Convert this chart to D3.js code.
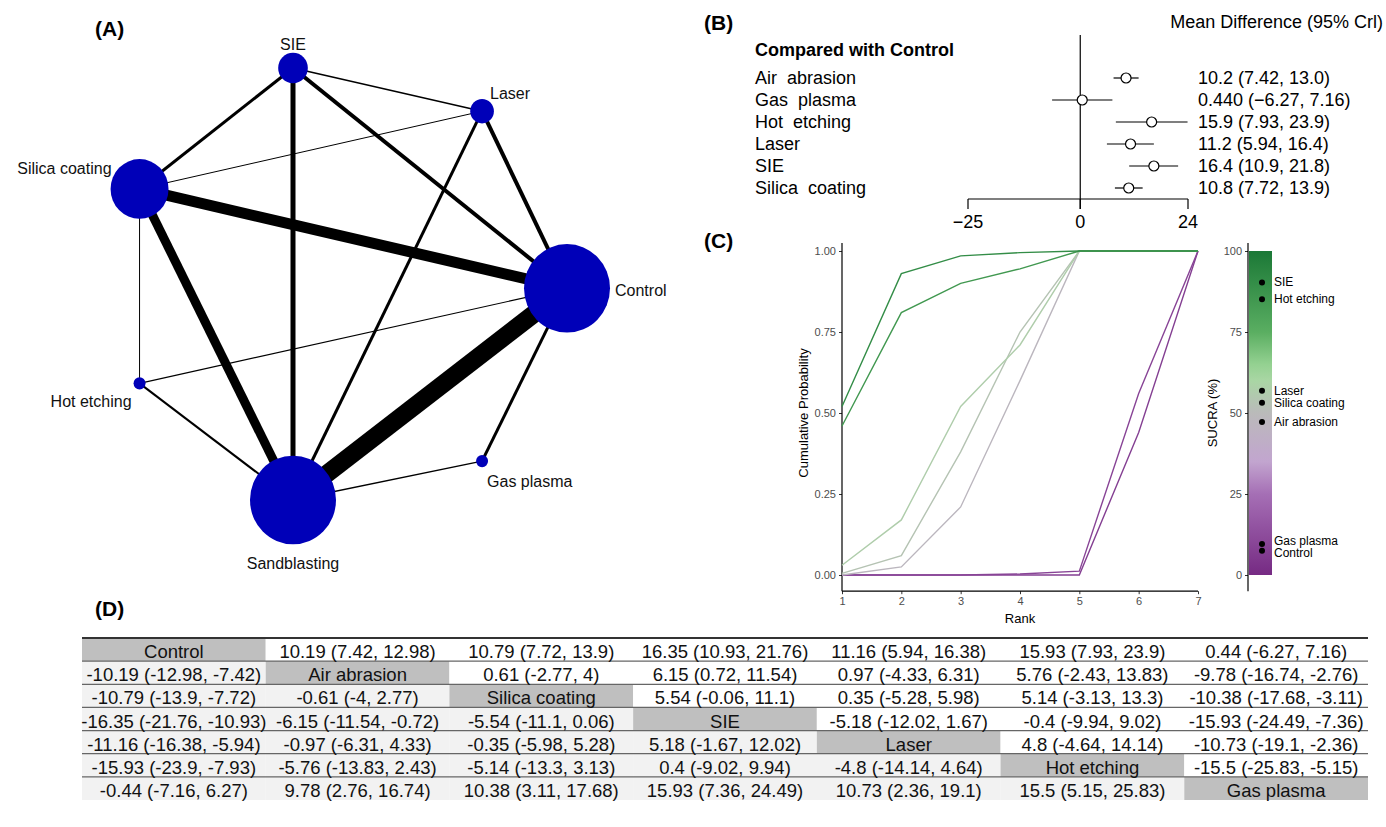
<!DOCTYPE html>
<html>
<head>
<meta charset="utf-8">
<script src="https://cdn.jsdelivr.net/npm/d3@7/dist/d3.min.js"></script>
<style>
  html, body { margin: 0; padding: 0; background: #fff; }
  svg { display: block; font-family: "Liberation Sans", Arial, Helvetica, sans-serif; }
</style>
</head>
<body>
<svg id="fig" width="1386" height="827"></svg>
<script>
// ---------------- data ----------------
// (A) network: treatments, relative sample size, direct-comparison weight
const netNodes = ["SIE", "Laser", "Silica coating", "Control", "Hot etching", "Gas plasma", "Sandblasting"];
const netNodeSize = [22, 14, 84, 185, 3.6, 3.6, 185];
const netEdgeFrom = ["Sandblasting", "Silica coating", "Silica coating", "SIE", "SIE", "Laser", "SIE", "Laser", "Control", "Hot etching", "SIE", "Sandblasting", "Hot etching", "Laser", "Silica coating"];
const netEdgeTo   = ["Control", "Control", "Sandblasting", "Sandblasting", "Control", "Control", "Silica coating", "Sandblasting", "Gas plasma", "Sandblasting", "Laser", "Gas plasma", "Control", "Silica coating", "Hot etching"];
const netEdgeWeight = [18, 11, 9, 5, 4, 4, 3, 3, 3, 2, 1.5, 1.5, 1.2, 1, 1];
// layout of the network in abstract units (-1..1)
const netLayoutX = [0, 0.69, -0.56, 1, -0.56, 0.69, 0];
const netLayoutY = [1, 0.80, 0.44, -0.02, -0.46, -0.82, -1];

// (B) forest plot vs Control
const forestTreat = ["Air  abrasion", "Gas  plasma", "Hot  etching", "Laser", "SIE", "Silica  coating"];
const forestMean = [10.2, 0.44, 15.9, 11.2, 16.4, 10.8];
const forestLow  = [7.42, -6.27, 7.93, 5.94, 10.9, 7.72];
const forestHigh = [13.0, 7.16, 23.9, 16.4, 21.8, 13.9];
const forestTicks = [-25, 0, 24];

// (C) cumulative ranking probabilities and SUCRA
const rankTreat = ["SIE", "Hot etching", "Laser", "Silica coating", "Air abrasion", "Gas plasma", "Control"];
const ranks = [1, 2, 3, 4, 5, 6, 7];
const cumProb = [
  [0.52, 0.93, 0.985, 0.995, 1, 1, 1],
  [0.46, 0.81, 0.90, 0.945, 1, 1, 1],
  [0.03, 0.17, 0.52, 0.71, 1, 1, 1],
  [0.005, 0.06, 0.38, 0.75, 1, 1, 1],
  [0.0, 0.025, 0.21, 0.60, 1, 1, 1],
  [0, 0, 0, 0.003, 0.012, 0.56, 1],
  [0, 0, 0, 0, 0.0, 0.44, 1]
];
const sucra = [90.3, 85.1, 56.9, 53.2, 47.2, 9.6, 7.5];
const probTicks = [0, 0.25, 0.5, 0.75, 1];
const sucraTicks = [0, 25, 50, 75, 100];

// (D) league table: mean differences with 95% CrI
const tableTreat = ["Control", "Air abrasion", "Silica coating", "SIE", "Laser", "Hot etching", "Gas plasma"];
const tableMean = [
  [null, 10.19, 10.79, 16.35, 11.16, 15.93, 0.44],
  [-10.19, null, 0.61, 6.15, 0.97, 5.76, -9.78],
  [-10.79, -0.61, null, 5.54, 0.35, 5.14, -10.38],
  [-16.35, -6.15, -5.54, null, -5.18, -0.4, -15.93],
  [-11.16, -0.97, -0.35, 5.18, null, 4.8, -10.73],
  [-15.93, -5.76, -5.14, 0.4, -4.8, null, -15.5],
  [-0.44, 9.78, 10.38, 15.93, 10.73, 15.5, null]
];
const tableLow = [
  [null, 7.42, 7.72, 10.93, 5.94, 7.93, -6.27],
  [-12.98, null, -2.77, 0.72, -4.33, -2.43, -16.74],
  [-13.9, -4, null, -0.06, -5.28, -3.13, -17.68],
  [-21.76, -11.54, -11.1, null, -12.02, -9.94, -24.49],
  [-16.38, -6.31, -5.98, -1.67, null, -4.64, -19.1],
  [-23.9, -13.83, -13.3, -9.02, -14.14, null, -25.83],
  [-7.16, 2.76, 3.11, 7.36, 2.36, 5.15, null]
];
const tableHigh = [
  [null, 12.98, 13.9, 21.76, 16.38, 23.9, 7.16],
  [-7.42, null, 4, 11.54, 6.31, 13.83, -2.76],
  [-7.72, 2.77, null, 11.1, 5.98, 13.3, -3.11],
  [-10.93, -0.72, 0.06, null, 1.67, 9.02, -7.36],
  [-5.94, 4.33, 5.28, 12.02, null, 14.14, -2.36],
  [-7.93, 2.43, 3.13, 9.94, 4.64, null, -5.15],
  [6.27, 16.74, 17.68, 24.49, 19.1, 25.83, null]
];

// ---------------- drawing ----------------
const svg = d3.select("#fig");

function panelLabel(text, x, y) {
  svg.append("text").attr("x", x).attr("y", y)
    .attr("font-size", 21).attr("font-weight", "bold")
    .attr("dominant-baseline", "central").text(text);
}

// ===== (A) network plot =====
panelLabel("(A)", 95, 28);
{
  const x = d3.scaleLinear().domain([-1, 1]).range([19, 567]);
  const y = d3.scaleLinear().domain([-1, 1]).range([500, 68]);
  const r = d3.scaleSqrt().domain([0, d3.max(netNodeSize)]).range([0, 43]);
  const w = d3.scaleLinear().domain([0, d3.max(netEdgeWeight)]).range([0, 18]);
  const idx = new Map(netNodes.map((n, i) => [n, i]));
  const g = svg.append("g");

  g.selectAll("line.edge").data(netEdgeWeight).join("line")
    .attr("class", "edge")
    .attr("x1", (d, i) => x(netLayoutX[idx.get(netEdgeFrom[i])]))
    .attr("y1", (d, i) => y(netLayoutY[idx.get(netEdgeFrom[i])]))
    .attr("x2", (d, i) => x(netLayoutX[idx.get(netEdgeTo[i])]))
    .attr("y2", (d, i) => y(netLayoutY[idx.get(netEdgeTo[i])]))
    .attr("stroke", "#000").attr("stroke-width", d => w(d));

  g.selectAll("ellipse.node").data(netNodes).join("ellipse")
    .attr("class", "node")
    .attr("cx", (d, i) => x(netLayoutX[i]))
    .attr("cy", (d, i) => y(netLayoutY[i]))
    .attr("rx", (d, i) => r(netNodeSize[i]))
    .attr("ry", (d, i) => r(netNodeSize[i]) * 1.03)
    .attr("fill", "#0000b8");

  // label placement around each node
  const labelPos = {
    "SIE": [0, -24, "middle"],
    "Laser": [8, -18, "start"],
    "Silica coating": [-28, -20, "end"],
    "Control": [48, 2, "start"],
    "Hot etching": [-8, 18, "end"],
    "Gas plasma": [5, 20, "start"],
    "Sandblasting": [0, 63, "middle"]
  };
  g.selectAll("text.nl").data(netNodes).join("text")
    .attr("class", "nl")
    .attr("x", (d, i) => x(netLayoutX[i]) + labelPos[d][0])
    .attr("y", (d, i) => y(netLayoutY[i]) + labelPos[d][1])
    .attr("text-anchor", d => labelPos[d][2])
    .attr("dominant-baseline", "central")
    .attr("font-size", 16).attr("fill", "#111")
    .text(d => d);
}

// ===== (B) forest plot =====
panelLabel("(B)", 704, 22);
{
  const g = svg.append("g");
  const x = d3.scaleLinear().domain([-25, 24]).range([968, 1188]);
  const y = d3.scalePoint().domain(forestTreat).range([78, 188]);
  const fmt = d3.format(".3r");
  const fs = 18;

  g.append("text").attr("x", 1383).attr("y", 22).attr("text-anchor", "end")
    .attr("dominant-baseline", "central").attr("font-size", fs).text("Mean Difference (95% Crl)");
  g.append("text").attr("x", 755).attr("y", 50)
    .attr("dominant-baseline", "central").attr("font-size", fs).attr("font-weight", "bold")
    .text("Compared with Control");

  // reference line at zero
  g.append("line").attr("x1", x(0)).attr("x2", x(0)).attr("y1", 35).attr("y2", 209)
    .attr("stroke", "#000").attr("stroke-width", 1.2);
  // axis
  g.append("line").attr("x1", x(-25)).attr("x2", x(24)).attr("y1", 199).attr("y2", 199)
    .attr("stroke", "#000").attr("stroke-width", 1.2);
  g.selectAll("line.ft").data(forestTicks).join("line").attr("class", "ft")
    .attr("x1", d => x(d)).attr("x2", d => x(d)).attr("y1", 199).attr("y2", 209)
    .attr("stroke", "#000").attr("stroke-width", 1.2);
  g.selectAll("text.ftl").data(forestTicks).join("text").attr("class", "ftl")
    .attr("x", d => x(d)).attr("y", 222).attr("text-anchor", "middle")
    .attr("dominant-baseline", "central").attr("font-size", fs)
    .text(d => d3.format("")(d));

  g.selectAll("text.fl").data(forestTreat).join("text").attr("class", "fl")
    .attr("x", 755).attr("y", d => y(d)).attr("dominant-baseline", "central")
    .attr("font-size", fs).style("white-space", "pre").attr("xml:space", "preserve").text(d => d);

  g.selectAll("line.ci").data(forestTreat).join("line").attr("class", "ci")
    .attr("x1", (d, i) => x(forestLow[i])).attr("x2", (d, i) => x(forestHigh[i]))
    .attr("y1", d => y(d)).attr("y2", d => y(d))
    .attr("stroke", "#000").attr("stroke-width", 1.2);
  g.selectAll("circle.pe").data(forestTreat).join("circle").attr("class", "pe")
    .attr("cx", (d, i) => x(forestMean[i])).attr("cy", d => y(d)).attr("r", 5)
    .attr("fill", "#fff").attr("stroke", "#000").attr("stroke-width", 1.2);

  g.selectAll("text.fv").data(forestTreat).join("text").attr("class", "fv")
    .attr("x", 1198).attr("y", d => y(d)).attr("dominant-baseline", "central")
    .attr("font-size", fs)
    .text((d, i) => `${fmt(forestMean[i])} (${fmt(forestLow[i])}, ${fmt(forestHigh[i])})`);
}

// ===== (C) cumulative ranking + SUCRA =====
panelLabel("(C)", 704, 240);
const sucraColor = d3.scaleLinear()
  .domain([0, 25, 35, 50, 62, 75, 100])
  .range(["#762a83", "#a56fb5", "#c2a5cf", "#bababa", "#a6dba0", "#5aae61", "#1b7837"]);
{
  const g = svg.append("g");
  const x = d3.scaleLinear().domain([1, 7]).range([842, 1198]);
  const y = d3.scaleLinear().domain([0, 1]).range([575, 251]);

  const ya = g.append("g").attr("transform", `translate(${x(1)},0)`)
    .call(d3.axisLeft(y).tickValues(probTicks).tickFormat(d3.format(".2f")).tickSize(3).tickPadding(3));
  ya.select(".domain").remove();
  const xa = g.append("g").attr("transform", `translate(0,${y(-0.05)})`)
    .call(d3.axisBottom(x).tickValues(ranks).tickFormat(d3.format("d")).tickSize(3).tickPadding(3));
  xa.select(".domain").remove();
  g.selectAll(".tick line").attr("stroke", "#333");
  g.selectAll(".tick text").attr("fill", "#4d4d4d").attr("font-size", 11)
    .attr("font-family", "Liberation Sans, Arial, sans-serif");
  g.append("line").attr("x1", x(1)).attr("x2", x(1)).attr("y1", y(1.025)).attr("y2", y(-0.05))
    .attr("stroke", "#000").attr("stroke-width", 1.2);
  g.append("line").attr("x1", x(1)).attr("x2", x(7)).attr("y1", y(-0.05)).attr("y2", y(-0.05))
    .attr("stroke", "#000").attr("stroke-width", 1.2);

  g.append("text").attr("x", x(4)).attr("y", 618).attr("text-anchor", "middle")
    .attr("dominant-baseline", "central").attr("font-size", 13).text("Rank");
  g.append("text").attr("transform", `translate(803,${y(0.5)}) rotate(-90)`)
    .attr("text-anchor", "middle").attr("dominant-baseline", "central")
    .attr("font-size", 13).text("Cumulative Probability");

  const line = d3.line().x((d, i) => x(ranks[i])).y(d => y(d));
  // draw lowest-SUCRA lines first so greens sit on top
  const order = d3.range(rankTreat.length).sort((a, b) => sucra[a] - sucra[b]);
  g.selectAll("path.cr").data(order).join("path").attr("class", "cr")
    .attr("d", i => line(cumProb[i]))
    .attr("fill", "none").attr("stroke", i => sucraColor(sucra[i])).attr("stroke-width", 1.4);

  // SUCRA colour bar
  const ys = d3.scaleLinear().domain([0, 100]).range([575, 251]);
  const defs = svg.append("defs");
  const grad = defs.append("linearGradient").attr("id", "sucraGrad")
    .attr("x1", 0).attr("y1", 1).attr("x2", 0).attr("y2", 0);
  grad.selectAll("stop").data(d3.range(0, 101, 5)).join("stop")
    .attr("offset", d => d + "%").attr("stop-color", d => sucraColor(d));
  g.append("rect").attr("x", 1249).attr("width", 23)
    .attr("y", ys(100)).attr("height", ys(0) - ys(100)).attr("fill", "url(#sucraGrad)");

  const sa = g.append("g").attr("transform", "translate(1248,0)")
    .call(d3.axisLeft(ys).tickValues(sucraTicks).tickSize(3).tickPadding(3));
  sa.select(".domain").remove();
  sa.selectAll(".tick line").attr("stroke", "#333");
  sa.selectAll(".tick text").attr("fill", "#4d4d4d").attr("font-size", 11)
    .attr("font-family", "Liberation Sans, Arial, sans-serif");
  g.append("line").attr("x1", 1248).attr("x2", 1248).attr("y1", ys(102.5)).attr("y2", ys(-5))
    .attr("stroke", "#000").attr("stroke-width", 1.2);
  g.append("text").attr("transform", `translate(1212,${ys(50)}) rotate(-90)`)
    .attr("text-anchor", "middle").attr("dominant-baseline", "central")
    .attr("font-size", 13).text("SUCRA (%)");

  g.selectAll("circle.sd").data(rankTreat).join("circle").attr("class", "sd")
    .attr("cx", 1262).attr("cy", (d, i) => ys(sucra[i])).attr("r", 3).attr("fill", "#000");
  // small vertical nudges keep the two close bottom labels apart
  const nudge = { "Gas plasma": -2.5, "Control": 2.5 };
  g.selectAll("text.sl").data(rankTreat).join("text").attr("class", "sl")
    .attr("x", 1274).attr("y", (d, i) => ys(sucra[i]) + (nudge[d] || 0))
    .attr("dominant-baseline", "central")
    .attr("font-size", 12).text(d => d);
}

// ===== (D) league table =====
panelLabel("(D)", 95, 608);
{
  const g = svg.append("g");
  const n = tableTreat.length;
  const cx = d3.scaleBand().domain(d3.range(n)).range([82, 1368]);
  const ry = d3.scaleBand().domain(d3.range(n)).range([638, 800]);
  const f = v => String(+v.toFixed(2));
  const cells = [];
  for (let i = 0; i < n; i++) for (let j = 0; j < n; j++) cells.push({ i, j });

  g.selectAll("rect.cell").data(cells).join("rect").attr("class", "cell")
    .attr("x", d => cx(d.j)).attr("y", d => ry(d.i))
    .attr("width", cx.bandwidth()).attr("height", ry.bandwidth())
    .attr("fill", d => d.i === d.j ? "#bfbfbf" : (d.i > d.j ? "#f2f2f2" : "#ffffff"));

  g.selectAll("line.rl").data(d3.range(1, n)).join("line").attr("class", "rl")
    .attr("x1", 82).attr("x2", 1368).attr("y1", d => ry(d)).attr("y2", d => ry(d))
    .attr("stroke", "#666").attr("stroke-width", 1.3);
  g.append("line").attr("x1", 82).attr("x2", 1368).attr("y1", 638).attr("y2", 638)
    .attr("stroke", "#333").attr("stroke-width", 2);

  g.selectAll("text.ct").data(cells).join("text").attr("class", "ct")
    .attr("x", d => cx(d.j) + cx.bandwidth() / 2)
    .attr("y", d => ry(d.i) + ry.bandwidth() / 2 + 2)
    .attr("text-anchor", "middle").attr("dominant-baseline", "central")
    .attr("font-size", 18.5).attr("fill", "#111")
    .text(d => d.i === d.j ? tableTreat[d.i]
      : `${f(tableMean[d.i][d.j])} (${f(tableLow[d.i][d.j])}, ${f(tableHigh[d.i][d.j])})`);
}
</script>
</body>
</html>
